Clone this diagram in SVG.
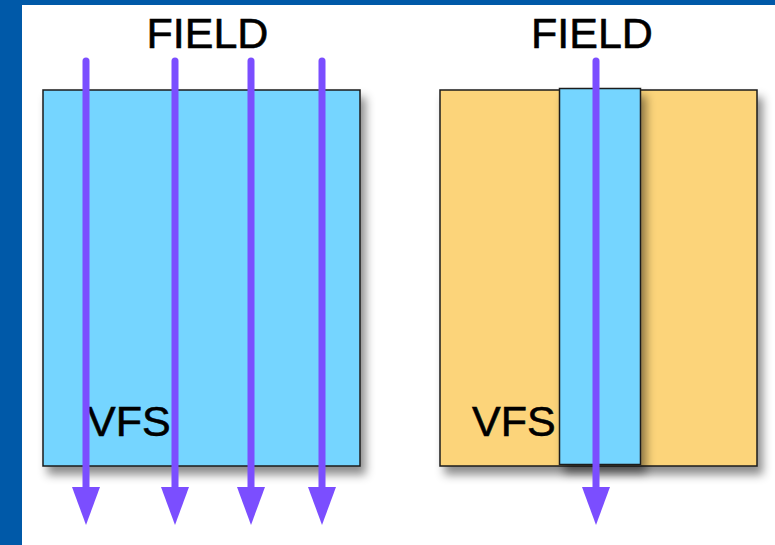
<svg xmlns="http://www.w3.org/2000/svg" width="775" height="545" viewBox="0 0 775 545">
<defs>
<style>
.lbl{font-family:"Liberation Sans",Arial,Helvetica,sans-serif;font-size:43px;fill:#000;stroke:#000;stroke-width:0.6}
.box{stroke:#1a1a1a;stroke-width:1.5}
.blue{fill:#75D5FF}
.orange{fill:#FCD47A}
.fl{stroke:#7B4EFF;stroke-width:7;stroke-linecap:round;fill:none}
.head{fill:#7B4EFF}
</style>
<filter id="sh" x="-10%" y="-10%" width="130%" height="130%">
<feDropShadow dx="5" dy="8" stdDeviation="5" flood-color="#000" flood-opacity="0.45"/>
</filter>
</defs>
<rect x="0" y="0" width="775" height="545" fill="#0059A8"/>
<rect x="22" y="5" width="753" height="540" fill="#FFFFFF"/>
<g id="left-vfs">
<rect class="box blue" x="43" y="90" width="317" height="376" filter="url(#sh)"/>
<text class="lbl" x="87" y="436">VFS</text>
</g>
<g id="right-vfs">
<rect class="box orange" x="440" y="90" width="317" height="376" filter="url(#sh)"/>
<rect class="box blue" x="559.5" y="88.5" width="81" height="376" filter="url(#sh)"/>
<text class="lbl" x="472" y="436">VFS</text>
</g>
<g id="field-left"><text class="lbl" x="207.5" y="48" text-anchor="middle">FIELD</text></g>
<g id="field-right"><text class="lbl" x="592" y="48" text-anchor="middle">FIELD</text></g>
<g id="connectors">
<line class="fl" x1="86" y1="61" x2="86" y2="492"/>
<polygon class="head" points="72,487 100,487 86,525"/>
<line class="fl" x1="175" y1="61" x2="175" y2="492"/>
<polygon class="head" points="161,487 189,487 175,525"/>
<line class="fl" x1="251" y1="61" x2="251" y2="492"/>
<polygon class="head" points="237,487 265,487 251,525"/>
<line class="fl" x1="322" y1="61" x2="322" y2="492"/>
<polygon class="head" points="308,487 336,487 322,525"/>
<line class="fl" x1="596" y1="61" x2="596" y2="492"/>
<polygon class="head" points="582,487 610,487 596,525"/>
</g>
</svg>
